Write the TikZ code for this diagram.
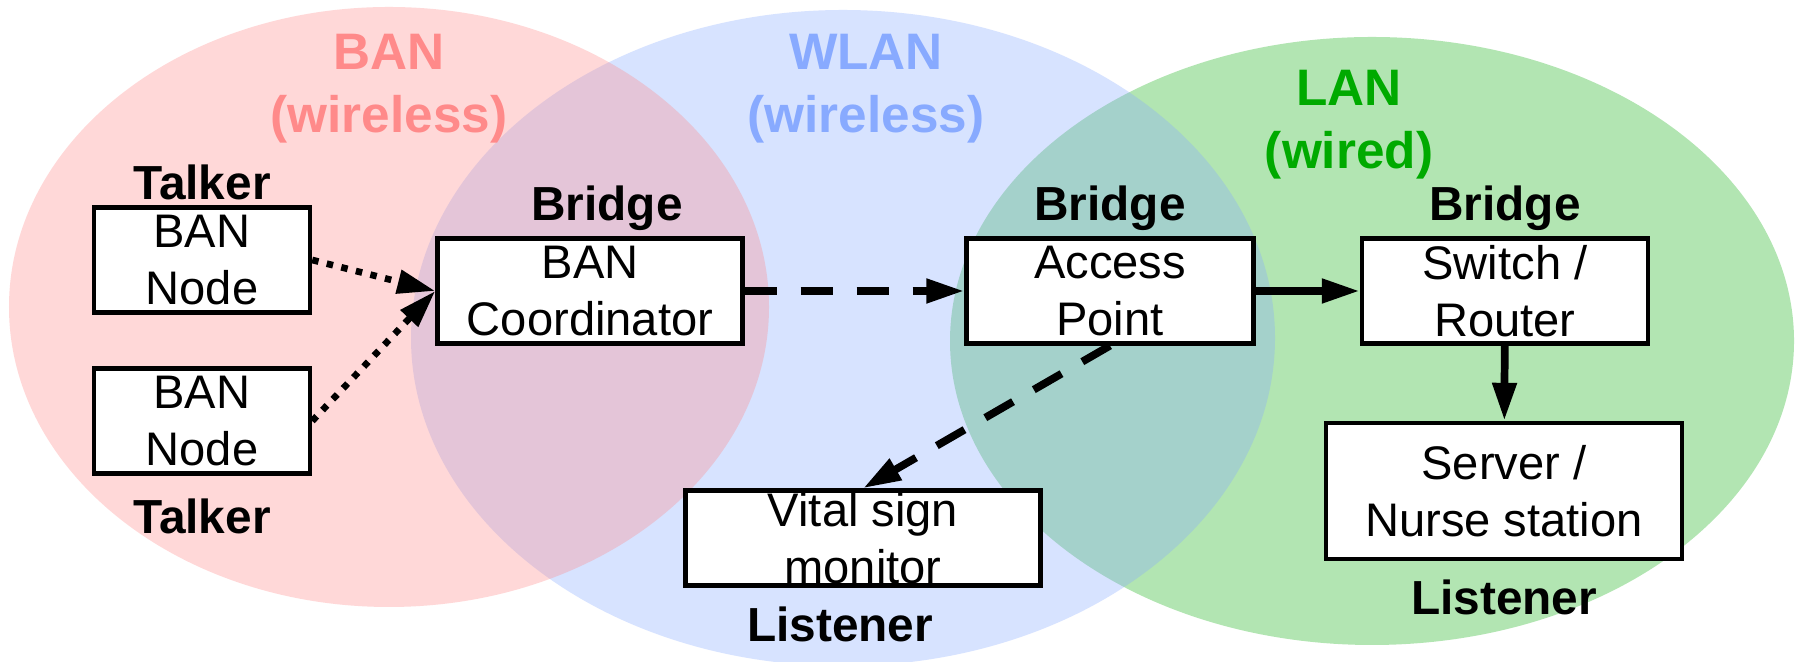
\documentclass[tikz,border=0pt]{standalone}
\usepackage{fontspec}
\setmainfont{Liberation Sans}
\usepackage{xcolor}
\usetikzlibrary{arrows.meta,positioning}
\definecolor{bancol}{RGB}{255,138,138}
\definecolor{wlancol}{RGB}{136,170,255}
\definecolor{lancol}{RGB}{0,170,0}

\begin{document}
\begin{tikzpicture}[
  node distance=0.5mm,
  box/.style={draw,line width=1.25pt,fill=white,align=center,inner sep=0pt,minimum height=10.5mm,font=\fontsize{13.4}{16.2}\selectfont},
  role/.style={inner sep=0pt,font=\fontsize{13.6}{16}\selectfont\bfseries},
  net/.style={inner sep=0pt,align=center,anchor=north,font=\fontsize{14.6}{17.9}\selectfont\bfseries},
  arrow/.style={-{Triangle[length=3.8mm,width=2.3mm]},line width=2.2pt},
  dasharrow/.style={arrow,dash pattern=on 3.2mm off 2.4mm},
  dotarrow/.style={arrow,line width=1.9pt,dash pattern=on 0.65mm off 0.85mm}
]
  \useasboundingbox (0,0) rectangle (17.96,6.62);
  \fill[white] (0,0) rectangle (17.96,6.62);
  \fill[lancol,fill opacity=0.3] (13.72,3.21) ellipse [x radius=4.22,y radius=3.04];
  \fill[wlancol,fill opacity=0.33] (8.43,3.24) ellipse [x radius=4.32,y radius=3.28];
  \fill[bancol,fill opacity=0.33] (3.89,3.55) ellipse [x radius=3.80,y radius=3.00];
  \node[net,text=bancol] (bantitle) at (3.89,6.28) {BAN\\(wireless)};
  \node[net,text=wlancol] (wlantitle) at (8.66,6.28) {WLAN\\(wireless)};
  \node[net,text=lancol] (lantitle) at (13.49,5.92) {LAN\\(wired)};
  \node[box,minimum width=21.6mm] (ban1) at (2.02,4.02) {BAN\\Node};
  \node[box,minimum width=21.6mm] (ban2) at (2.02,2.41) {BAN\\Node};
  \node[box,minimum width=30.5mm] (coord) at (5.90,3.71) {BAN\\Coordinator};
  \node[box,minimum width=28.7mm] (ap) at (11.10,3.71) {Access\\Point};
  \node[box,minimum width=28.6mm] (switch) at (15.05,3.71) {Switch /\\Router};
  \node[box,minimum width=35.6mm,minimum height=13.6mm] (server) at (15.04,1.71) {Server /\\Nurse station};
  \node[box,minimum width=35.5mm,minimum height=9.5mm] (vsm) at (8.63,1.24) {Vital sign\\monitor};
  \node[role,above=of ban1] (talk1) {Talker};
  \node[role,below=2.2mm of ban2] (talk2) {Talker};
  \node[role,above=of coord,xshift=1.7mm] (bridge1) {Bridge};
  \node[role,above=of ap] (bridge2) {Bridge};
  \node[role,above=of switch] (bridge3) {Bridge};
  \node[role,below=1.8mm of server] (listen1) {Listener};
  \node[role,below=1.8mm of vsm,xshift=-2.3mm] (listen2) {Listener};
  \draw[dotarrow] (ban1.east) -- (coord.west);
  \draw[dotarrow] (ban2.east) -- (coord.west);
  \draw[dasharrow] (coord) -- (ap);
  \draw[arrow] (ap) -- (switch);
  \draw[arrow] (switch) -- (server);
  \draw[dasharrow] (ap.south) -- (vsm.north);
\end{tikzpicture}
\end{document}
